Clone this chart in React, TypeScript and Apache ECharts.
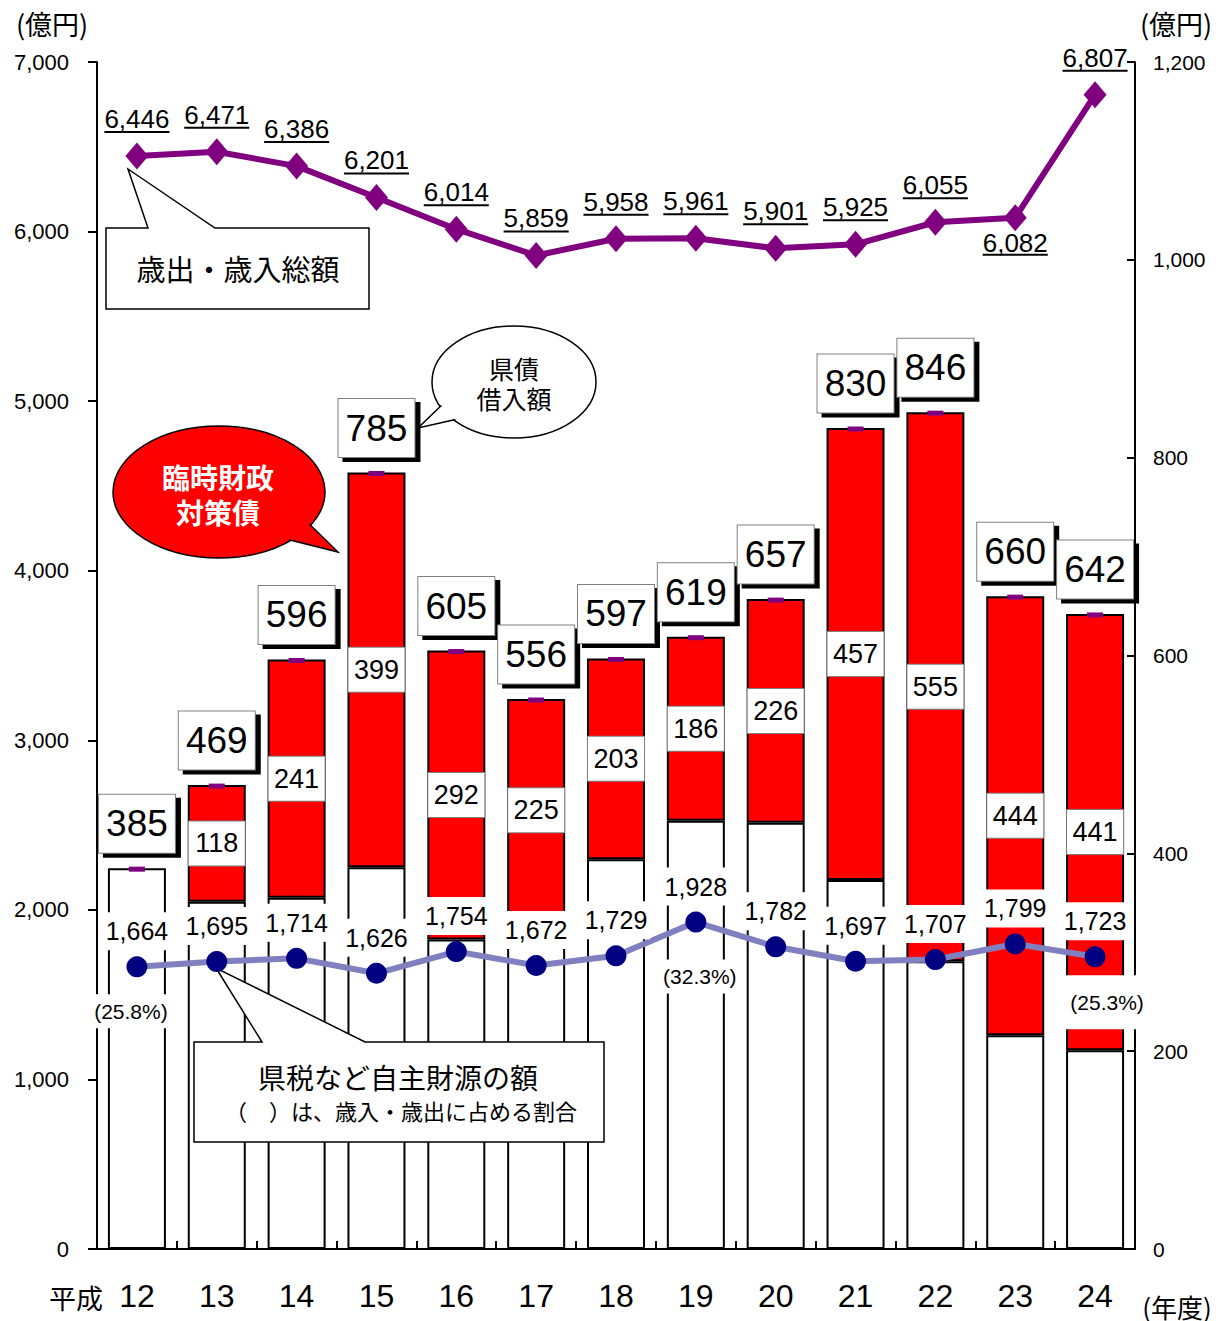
import React, { useEffect, useRef } from 'react';
import * as echarts from 'echarts';

// ---- data ----
const categories = ['12', '13', '14', '15', '16', '17', '18', '19', '20', '21', '22', '23', '24'];
// 県債借入額 (right axis)
const kensaiTotal = [385, 469, 596, 785, 605, 556, 597, 619, 657, 830, 846, 660, 642];
// うち臨時財政対策債 (right axis)
const rinjiZaisei: (number | null)[] = [null, 118, 241, 399, 292, 225, 203, 186, 226, 457, 555, 444, 441];
// 歳出・歳入総額 (left axis)
const saishutsuSainyu = [6446, 6471, 6386, 6201, 6014, 5859, 5958, 5961, 5901, 5925, 6055, 6082, 6807];
// 県税など自主財源の額 (left axis)
const jishuZaigen = [1664, 1695, 1714, 1626, 1754, 1672, 1729, 1928, 1782, 1697, 1707, 1799, 1723];
// 歳入・歳出に占める割合
const ratioCategories = ['12', '19', '24'];
const ratioValues = [25.8, 32.3, 25.3];
// axes
const leftAxisMax = 7000;
const leftAxisStep = 1000;
const rightAxisMax = 1200;
const rightAxisStep = 200;

const FONT = "'Liberation Sans', Arial, 'Noto Sans CJK JP', sans-serif";
const JFONT = "'Noto Sans CJK JP', 'Liberation Sans', sans-serif";

const fmt = (v: number) => v.toLocaleString('en-US');

let ctx: CanvasRenderingContext2D | null = null;
function measure(text: string, font: string) {
  if (!ctx) ctx = document.createElement('canvas').getContext('2d');
  if (!ctx) return text.length * 13;
  ctx.font = font;
  return ctx.measureText(text).width;
}

const belowLabelCats = ['23'];
const ratioLabelStyle: Record<string, any> = {
  '12': { distance: 17, offset: [-6, 0] },
  '19': { distance: 27, offset: [4, 0] },
  '24': { distance: 8, offset: [2, 0], padding: [14, 4, 14, 24], borderRadius: 8 },
};

const totalLabelBase = {
  show: true,
  position: 'top',
  distance: 14,
  fontSize: 37,
  fontFamily: FONT,
  borderWidth: 1,
  lineHeight: 44,
  padding: [7, 7, 7, 7],
  opacity: 1,
};

function buildOption() {
  const whitePart = kensaiTotal.map((t, i) => t - (rinjiZaisei[i] ?? 0));
  const ratioData = ratioCategories.map((c, k) => {
    const idx = categories.indexOf(c);
    const st = ratioLabelStyle[c] || {};
    return {
      value: [c, jishuZaigen[idx], ratioValues[k]],
      label: { ...st },
    };
  });

  const center = { align: 'center', verticalAlign: 'middle', textAlign: 'center', textVerticalAlign: 'middle' };

  const graphic: any[] = [
    // 歳出・歳入総額 callout
    {
      type: 'polygon', z: 2,
      shape: { points: [[106, 228], [148, 228], [128, 169], [215, 228], [369, 228], [369, 309], [106, 309]] },
      style: { fill: '#fff', stroke: '#000', lineWidth: 1.5 },
    },
    {
      type: 'text', z: 2, x: 238, y: 268,
      style: { text: '歳出・歳入総額', fontSize: 29, fontFamily: JFONT, fill: '#000', ...center },
    },
    // 県債借入額 bubble
    { type: 'ellipse', z: 2, shape: { cx: 514, cy: 382, rx: 82, ry: 56 }, style: { fill: '#fff', stroke: '#000', lineWidth: 1.5 } },
    { type: 'polygon', z: 2, shape: { points: [[445, 402], [418, 428], [462, 418]] }, style: { fill: '#fff', stroke: '#000', lineWidth: 1.5 } },
    { type: 'ellipse', z: 2, shape: { cx: 514, cy: 382, rx: 80.5, ry: 54.5 }, style: { fill: '#fff' } },
    {
      type: 'text', z: 2, x: 514, y: 383,
      style: { text: '県債\n借入額', fontSize: 25, lineHeight: 30, fontFamily: JFONT, fill: '#000', ...center },
    },
    // 臨時財政対策債 bubble
    { type: 'ellipse', z: 2, shape: { cx: 219, cy: 492, rx: 106, ry: 66 }, style: { fill: '#ff0000', stroke: '#000', lineWidth: 1.5 } },
    { type: 'polygon', z: 2, shape: { points: [[300, 515], [338, 552], [282, 538]] }, style: { fill: '#ff0000', stroke: '#000', lineWidth: 1.5 } },
    { type: 'ellipse', z: 2, shape: { cx: 219, cy: 492, rx: 104.5, ry: 64.5 }, style: { fill: '#ff0000' } },
    {
      type: 'text', z: 2, x: 218, y: 494,
      style: { text: '臨時財政\n対策債', fontSize: 28, fontWeight: 'bold', lineHeight: 35, fontFamily: JFONT, fill: '#fff', ...center },
    },
    // 県税など自主財源の額 callout
    {
      type: 'polygon', z: 2,
      shape: { points: [[194, 1042], [262, 1042], [216, 968], [365, 1042], [604, 1042], [604, 1142], [194, 1142]] },
      style: { fill: '#fff', stroke: '#000', lineWidth: 1.5 },
    },
    {
      type: 'text', z: 2, x: 398, y: 1077,
      style: { text: '県税など自主財源の額', fontSize: 28, fontFamily: JFONT, fill: '#000', ...center },
    },
    {
      type: 'text', z: 2, x: 401, y: 1110,
      style: { text: '（　）は、歳入・歳出に占める割合', fontSize: 22, fontFamily: JFONT, fill: '#000', ...center },
    },
    // unit texts
    { type: 'text', x: 52, y: 23, style: { text: '(億円)', fontSize: 27, fontFamily: JFONT, fill: '#000', ...center } },
    { type: 'text', x: 1176, y: 23, style: { text: '(億円)', fontSize: 27, fontFamily: JFONT, fill: '#000', ...center } },
    { type: 'text', x: 1177, y: 1306, style: { text: '(年度)', fontSize: 26, fontFamily: JFONT, fill: '#000', ...center } },
    { type: 'text', x: 76, y: 1297, style: { text: '平成', fontSize: 27, fontFamily: JFONT, fill: '#000', ...center } },
  ];

  return {
    animation: false,
    backgroundColor: '#fff',
    textStyle: { fontFamily: FONT },
    grid: { left: 97, right: 92, top: 62, bottom: 72, containLabel: false },
    xAxis: {
      type: 'category',
      data: categories,
      boundaryGap: true,
      axisLine: { show: true, lineStyle: { color: '#000', width: 2 } },
      axisTick: { show: true, inside: true, length: 8, interval: 0, alignWithLabel: false, lineStyle: { color: '#000', width: 2 } },
      axisLabel: { interval: 0, fontSize: 32, color: '#000', margin: 31, fontFamily: FONT },
      splitLine: { show: false },
    },
    yAxis: [
      {
        type: 'value', min: 0, max: leftAxisMax, interval: leftAxisStep,
        axisLine: { show: true, lineStyle: { color: '#000', width: 2 } },
        axisTick: { show: true, inside: false, length: 9, lineStyle: { color: '#000', width: 2 } },
        axisLabel: { fontSize: 22, color: '#000', margin: 28, formatter: (v: number) => fmt(v), fontFamily: FONT },
        splitLine: { show: false },
      },
      {
        type: 'value', min: 0, max: rightAxisMax, interval: rightAxisStep,
        position: 'right',
        axisLine: { show: true, lineStyle: { color: '#000', width: 2 } },
        axisTick: { show: true, inside: true, length: 8, lineStyle: { color: '#000', width: 2 } },
        axisLabel: { fontSize: 21, color: '#000', margin: 18, formatter: (v: number) => fmt(v), fontFamily: FONT },
        splitLine: { show: false },
      },
    ],
    graphic,
    series: [
      {
        name: '県債借入額(臨財債以外)',
        type: 'bar',
        yAxisIndex: 1,
        stack: 'kensai',
        barWidth: 58,
        z: 1,
        data: whitePart,
        itemStyle: { color: '#fff', borderColor: '#000', borderWidth: 2 },
      },
      {
        name: '臨時財政対策債',
        type: 'bar',
        yAxisIndex: 1,
        stack: 'kensai',
        barWidth: 58,
        z: 1,
        data: rinjiZaisei.map((v) => (v == null ? { value: null, label: { show: false } } : v)),
        itemStyle: { color: '#ff0000', borderColor: '#000', borderWidth: 2 },
        label: {
          show: true,
          position: 'inside',
          fontSize: 27,
          color: '#000',
          fontFamily: FONT,
          backgroundColor: '#fff',
          borderColor: '#808080',
          borderWidth: 1,
          width: 54,
          align: 'center',
          lineHeight: 34,
          padding: [5, 1, 5, 1],
          formatter: (p: any) => fmt(p.value),
        },
      },
      {
        name: '県債借入額影',
        type: 'scatter',
        yAxisIndex: 1,
        z: 3,
        silent: true,
        data: kensaiTotal,
        symbol: 'rect',
        symbolSize: [16, 5],
        itemStyle: { color: 'rgba(0,0,0,0)', opacity: 1 },
        label: {
          ...totalLabelBase,
          offset: [5, 5],
          width: 62,
          align: 'center',
          color: 'rgba(0,0,0,0)',
          backgroundColor: '#000',
          borderColor: '#000',
          formatter: () => ' ',
        },
      },
      {
        name: '県債借入額',
        type: 'scatter',
        yAxisIndex: 1,
        z: 4,
        data: kensaiTotal,
        symbol: 'rect',
        symbolSize: [16, 5],
        symbolOffset: [0, 1],
        itemStyle: { color: '#800080', opacity: 1 },
        label: {
          ...totalLabelBase,
          width: 62,
          align: 'center',
          color: '#000',
          backgroundColor: '#fff',
          borderColor: '#808080',
          formatter: (p: any) => fmt(p.value),
        },
      },
      {
        name: '県税など自主財源の額',
        type: 'line',
        yAxisIndex: 0,
        z: 3,
        data: jishuZaigen,
        symbol: 'circle',
        symbolSize: 21,
        lineStyle: { color: '#8080c0', width: 6 },
        itemStyle: { color: '#000080' },
        label: {
          show: true,
          position: 'top',
          distance: 6,
          fontSize: 25,
          color: '#000',
          fontFamily: FONT,
          backgroundColor: '#fff',
          lineHeight: 30,
          padding: [4, 3, 4, 3],
          formatter: (p: any) => fmt(p.value),
        },
      },
      {
        name: '割合',
        type: 'scatter',
        yAxisIndex: 0,
        z: 3,
        data: ratioData,
        symbolSize: 21,
        itemStyle: { color: 'rgba(0,0,0,0)', opacity: 1 },
        label: {
          show: true,
          position: 'bottom',
          fontSize: 21,
          color: '#000',
          opacity: 1,
          fontFamily: FONT,
          backgroundColor: '#fff',
          lineHeight: 26,
          padding: [4, 4, 4, 4],
          formatter: (p: any) => `(${p.value[2].toFixed(1)}%)`,
        },
      },
      {
        name: '歳出・歳入総額',
        type: 'line',
        yAxisIndex: 0,
        z: 3,
        data: saishutsuSainyu,
        symbol: 'diamond',
        symbolSize: [23, 27],
        lineStyle: { color: '#800080', width: 6 },
        itemStyle: { color: '#800080' },
      },
      {
        name: '歳出・歳入総額ラベル',
        type: 'custom',
        yAxisIndex: 0,
        z: 5,
        silent: true,
        data: saishutsuSainyu.map((v, i) => [i, v]),
        encode: { x: 0, y: 1 },
        renderItem: (params: any, api: any) => {
          const i = params.dataIndex;
          const p = api.coord([api.value(0), api.value(1)]);
          const text = fmt(saishutsuSainyu[i]);
          const w = measure(text, `26px ${FONT}`);
          const below = belowLabelCats.includes(categories[i]);
          const mid = below ? p[1] + 25 : p[1] - 37;
          const ul = below ? p[1] + 37 : p[1] - 24;
          return {
            type: 'group',
            children: [
              {
                type: 'text', x: p[0], y: mid,
                style: { text, fontSize: 26, fontFamily: FONT, fill: '#000', ...center },
              },
              {
                type: 'line',
                shape: { x1: p[0] - w / 2, y1: ul, x2: p[0] + w / 2, y2: ul },
                style: { stroke: '#000', lineWidth: 2 },
              },
            ],
          };
        },
      },
    ],
  };
}

export default function App() {
  const ref = useRef<HTMLDivElement>(null);
  useEffect(() => {
    if (!ref.current) return;
    const chart = echarts.init(ref.current, undefined, { renderer: 'svg' });
    chart.setOption(buildOption() as any);
    return () => chart.dispose();
  }, []);
  return (
    <div
      ref={ref}
      style={{ position: 'absolute', left: 0, top: 0, width: 1227, height: 1321, background: '#fff' }}
    />
  );
}
